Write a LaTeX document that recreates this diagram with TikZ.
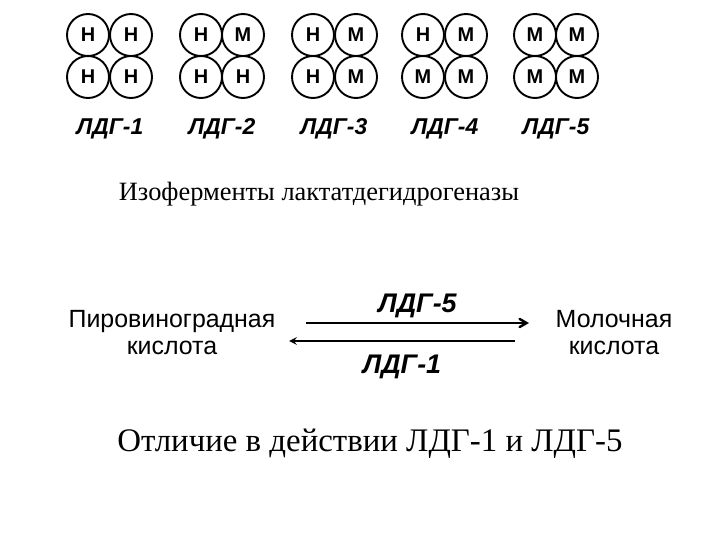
\documentclass[tikz,border=0pt]{standalone}
\usepackage{fontspec}
\setmainfont{Liberation Serif}
\newfontfamily\arialfont{Liberation Sans}
\usetikzlibrary{arrows,positioning}

\begin{document}
\begin{tikzpicture}[
    x=1bp, y=-1bp,
    >=stealth,
    sub/.style={circle, draw, line width=1.9bp, minimum size=42bp, inner sep=0pt,
                font=\arialfont\bfseries\fontsize{20}{20}\selectfont},
    ldg/.style={font=\arialfont\bfseries\itshape\fontsize{23}{23}\selectfont},
    ldgr/.style={font=\arialfont\bfseries\itshape\fontsize{27}{27}\selectfont},
    sbst/.style={align=center, font=\arialfont\fontsize{25}{27}\selectfont},
    capt/.style={anchor=base, font=\fontsize{26.5}{26.5}\selectfont},
    rxn/.style={line width=2.4bp},
  ]
  \useasboundingbox (0,0) rectangle (720,540);

  %% ===== Изоферменты (тетрамеры H/M) =====
  \node[sub] (a1) at (88,35)  {Н}; \node[sub] (a2) at (131,35) {Н};
  \node[sub] (a3) at (88,77)  {Н}; \node[sub] (a4) at (131,77) {Н};
  \node[ldg] (ldg1) at (110,129) {ЛДГ-1};

  \node[sub] (b1) at (201,35) {Н}; \node[sub] (b2) at (243,35) {М};
  \node[sub] (b3) at (201,77) {Н}; \node[sub] (b4) at (243,77) {Н};
  \node[ldg] (ldg2) at (222,129) {ЛДГ-2};

  \node[sub] (c1) at (313,35) {Н}; \node[sub] (c2) at (356,35) {М};
  \node[sub] (c3) at (313,77) {Н}; \node[sub] (c4) at (356,77) {М};
  \node[ldg] (ldg3) at (334,129) {ЛДГ-3};

  \node[sub] (d1) at (423,35) {Н}; \node[sub] (d2) at (466,35) {М};
  \node[sub] (d3) at (423,77) {М}; \node[sub] (d4) at (466,77) {М};
  \node[ldg] (ldg4) at (445,129) {ЛДГ-4};

  \node[sub] (e1) at (535,35) {М}; \node[sub] (e2) at (577,35) {М};
  \node[sub] (e3) at (535,77) {М}; \node[sub] (e4) at (577,77) {М};
  \node[ldg] (ldg5) at (556,129) {ЛДГ-5};

  \node[capt] (cap1) at (319,201) {Изоферменты лактатдегидрогеназы};

  %% ===== Реакция =====
  \node[sbst] (pyr) at (172,333) {Пировиноградная\\кислота};
  \node[sbst] (lac) at (614,333) {Молочная\\кислота};

  \coordinate (fwdA) at (306,323); \coordinate (fwdB) at (529,323);
  \coordinate (bckA) at (515,341); \coordinate (bckB) at (289,341);

  \draw[rxn, -angle 60] (fwdA) -- (fwdB)
    node[midway, above=1bp, ldgr] (ldg5r) {ЛДГ-5};
  \draw[rxn, ->] (bckA) -- (bckB)
    node[midway, below=9bp, ldgr] (ldg1r) {ЛДГ-1};

  \node[capt, font=\fontsize{33}{33}\selectfont] (cap2) at (370,451)
    {Отличие в действии ЛДГ-1 и ЛДГ-5};
\end{tikzpicture}
\end{document}
